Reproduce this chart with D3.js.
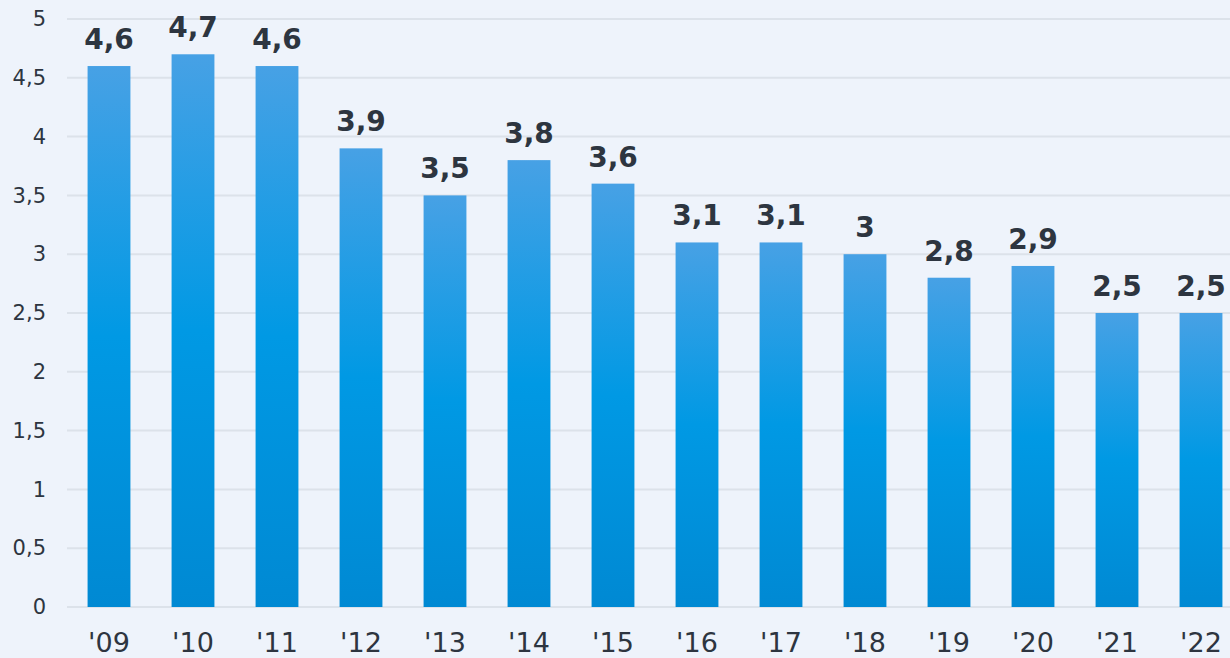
<!DOCTYPE html>
<head>
<meta charset="utf-8">
<script src="https://d3js.org/d3.v7.min.js"></script>
<style>
  html, body { margin: 0; padding: 0; background: #eef3fb; }
  svg { display: block; font-family: "DejaVu Sans", Verdana, sans-serif; }
</style>
</head>
<body>
<svg width="1230" height="658"></svg>
<script>
// data
var years = ["'09", "'10", "'11", "'12", "'13", "'14", "'15", "'16", "'17", "'18", "'19", "'20", "'21", "'22"];
var values = [4.6, 4.7, 4.6, 3.9, 3.5, 3.8, 3.6, 3.1, 3.1, 3.0, 2.8, 2.9, 2.5, 2.5];
var yTicks = [0, 0.5, 1, 1.5, 2, 2.5, 3, 3.5, 4, 4.5, 5];

var svg = d3.select("svg");
var fmt = function(v) { return String(v).replace(".", ","); };

var x = d3.scaleBand()
    .domain(years)
    .range([67, 1243])
    .paddingInner(0.49)
    .paddingOuter(0.245);

var y = d3.scaleLinear()
    .domain([0, 5])
    .range([607, 19]);

// gradient for bars
var grad = svg.append("defs").append("linearGradient")
    .attr("id", "barGrad")
    .attr("x1", 0).attr("y1", 0).attr("x2", 0).attr("y2", 1);
grad.append("stop").attr("offset", "0%").attr("stop-color", "#47a1e5");
grad.append("stop").attr("offset", "50%").attr("stop-color", "#0099e4");
grad.append("stop").attr("offset", "100%").attr("stop-color", "#0089d3");

// grid lines
svg.append("g")
    .selectAll("line")
    .data(yTicks)
    .enter()
    .append("line")
    .attr("x1", 67)
    .attr("x2", 1230)
    .attr("y1", function(d) { return y(d); })
    .attr("y2", function(d) { return y(d); })
    .attr("stroke", "#dce2ea")
    .attr("stroke-width", 2);

// y axis labels
var yAxis = svg.append("g")
    .attr("transform", "translate(46,0)")
    .call(d3.axisLeft(y).tickValues(yTicks).tickSize(0).tickPadding(0).tickFormat(fmt));
yAxis.select(".domain").remove();
yAxis.selectAll("text")
    .attr("fill", "#2d3540")
    .attr("font-size", 21)
    .attr("font-family", "DejaVu Sans, Verdana, sans-serif");

// x axis labels
var xAxis = svg.append("g")
    .attr("transform", "translate(0,607)")
    .call(d3.axisBottom(x).tickSize(0).tickPadding(26));
xAxis.select(".domain").remove();
xAxis.selectAll("text")
    .attr("fill", "#2d3540")
    .attr("font-size", 27)
    .attr("font-family", "DejaVu Sans, Verdana, sans-serif");

// bars
svg.append("g")
    .selectAll("rect")
    .data(values)
    .enter()
    .append("rect")
    .attr("x", function(d, i) { return x(years[i]); })
    .attr("y", function(d) { return y(d); })
    .attr("width", x.bandwidth())
    .attr("height", function(d) { return y(0) - y(d); })
    .attr("fill", "url(#barGrad)");

// value labels
svg.append("g")
    .selectAll("text")
    .data(values)
    .enter()
    .append("text")
    .attr("x", function(d, i) { return x(years[i]) + x.bandwidth() / 2; })
    .attr("y", function(d) { return y(d) - 17; })
    .attr("text-anchor", "middle")
    .attr("fill", "#2d3540")
    .attr("font-size", 28)
    .attr("font-weight", "bold")
    .text(fmt);
</script>
</body>
